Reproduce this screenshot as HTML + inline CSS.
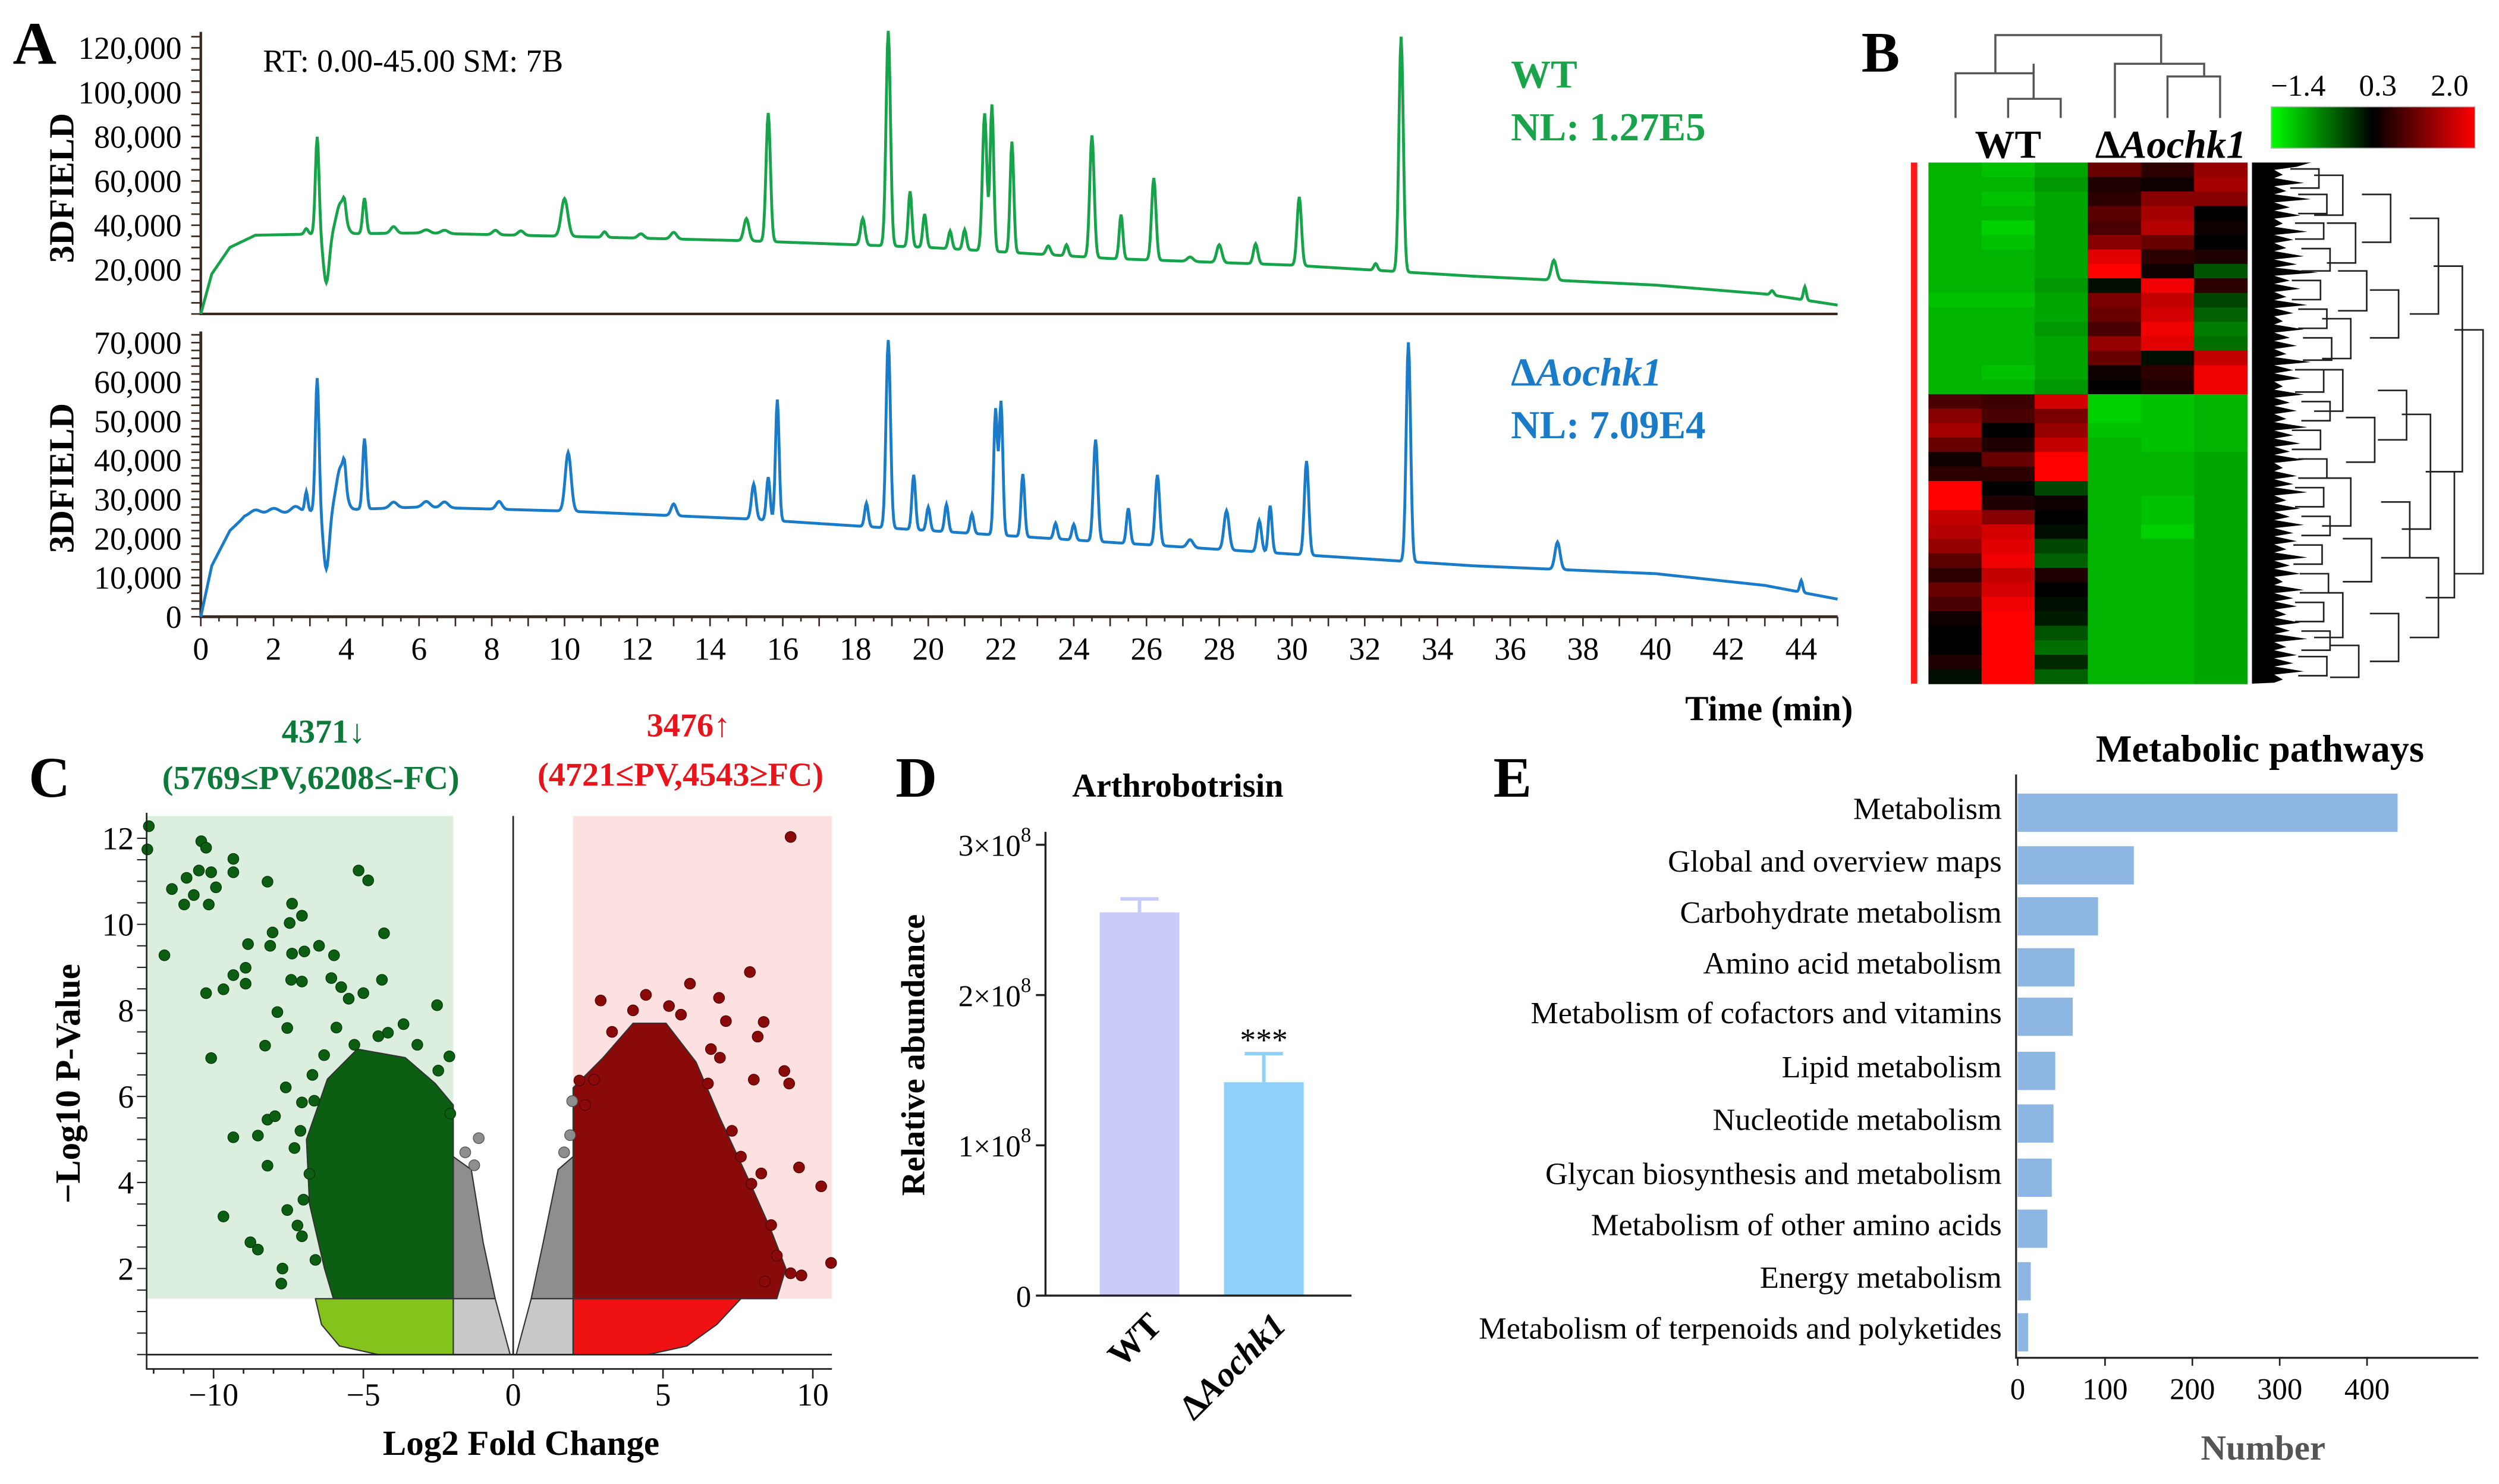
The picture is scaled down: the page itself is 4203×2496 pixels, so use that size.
<!DOCTYPE html>
<html><head><meta charset="utf-8"><style>
html,body{margin:0;padding:0;background:#fff;}
svg{display:block;font-family:"Liberation Serif",serif;}
</style></head><body>
<svg id="fig" width="4203" height="2496" viewBox="0 0 1568 931.2" preserveAspectRatio="none" xmlns="http://www.w3.org/2000/svg">
<rect x="0" y="0" width="1568" height="932" fill="#fff"/>
<text x="8" y="40" font-size="38" font-weight="bold">A</text>
<text x="1168" y="45" font-size="36" font-weight="bold">B</text>
<text x="18" y="500" font-size="36" font-weight="bold">C</text>
<text x="562" y="500" font-size="36" font-weight="bold">D</text>
<text x="937" y="500" font-size="36" font-weight="bold">E</text>

<g id="panelA">
<text x="165" y="45" font-size="20">RT: 0.00-45.00 SM: 7B</text>
<text x="948" y="55" font-size="25" font-weight="bold" fill="#1aa34a">WT</text>
<text x="948" y="88" font-size="25" font-weight="bold" fill="#1aa34a">NL: 1.27E5</text>
<text x="948" y="242" font-size="25" font-weight="bold" fill="#1a7cc9">Δ<tspan font-style="italic">Aochk1</tspan></text>
<text x="948" y="275" font-size="25" font-weight="bold" fill="#1a7cc9">NL: 7.09E4</text>
<text transform="translate(46,118) rotate(-90)" text-anchor="middle" font-size="22" font-weight="bold">3DFIELD</text>
<text transform="translate(46,300) rotate(-90)" text-anchor="middle" font-size="22" font-weight="bold">3DFIELD</text>
<text x="1110" y="452" text-anchor="middle" font-size="22" font-weight="bold">Time (min)</text>
</g>
<g id="panelB">
<text x="1260" y="99" text-anchor="middle" font-size="25" font-weight="bold">WT</text>
<text x="1362" y="99" text-anchor="middle" font-size="25" font-weight="bold">Δ<tspan font-style="italic">Aochk1</tspan></text>
<defs><linearGradient id="cb" x1="0" x2="1"><stop offset="0" stop-color="#00ff00"/><stop offset="0.5" stop-color="#000"/><stop offset="1" stop-color="#ff0000"/></linearGradient></defs>
<rect x="1425" y="67" width="128" height="26" fill="url(#cb)" stroke="#bbb" stroke-width="0.6"/>
<text x="1442" y="60" text-anchor="middle" font-size="19">−1.4</text>
<text x="1492" y="60" text-anchor="middle" font-size="19">0.3</text>
<text x="1537" y="60" text-anchor="middle" font-size="19">2.0</text>
<rect x="1199" y="102" width="4" height="327" fill="#ff1a1a"/>
<g id="hm"></g>
<g fill="none" stroke="#555" stroke-width="1.3">
<path d="M1227,74V46H1276V40 M1260,74V62H1293V74 M1276,62V46 M1252,46V22H1356V40 M1327,74V40H1383V48 M1360,74V48H1393V74"/>
</g>
<g id="rowdend" fill="none" stroke="#222" stroke-width="1"></g>
</g>
<g id="panelC">
<text x="203" y="466" text-anchor="middle" font-size="21" font-weight="bold" fill="#0d7a3a">4371↓</text>
<text x="195" y="495" text-anchor="middle" font-size="21" font-weight="bold" fill="#0d7a3a">(5769≤PV,6208≤-FC)</text>
<text x="432" y="462" text-anchor="middle" font-size="21" font-weight="bold" fill="#e8141c">3476↑</text>
<text x="427" y="493" text-anchor="middle" font-size="21" font-weight="bold" fill="#e8141c">(4721≤PV,4543≥FC)</text>
<text transform="translate(50,680) rotate(-90)" text-anchor="middle" font-size="22" font-weight="bold">−Log10 P-Value</text>
<text x="327" y="913" text-anchor="middle" font-size="22" font-weight="bold">Log2 Fold Change</text>
</g>
<g id="panelD">
<text x="739" y="500" text-anchor="middle" font-size="21" font-weight="bold">Arthrobotrisin</text>
<text transform="translate(580,662) rotate(-90)" text-anchor="middle" font-size="21" font-weight="bold">Relative abundance</text>
</g>
<g id="panelE">
<text x="1418" y="478" text-anchor="middle" font-size="24" font-weight="bold">Metabolic pathways</text>
<text x="1420" y="916" text-anchor="middle" font-size="22" font-weight="bold" fill="#555">Number</text>
</g>
</svg>
<script>
const NS="http://www.w3.org/2000/svg";
function mk(tag,attrs,parent){const e=document.createElementNS(NS,tag);for(const k in attrs)e.setAttribute(k,attrs[k]);(parent||document.getElementById('fig')).appendChild(e);return e;}

// ---------- Panel A data ----------
const chromTicksX=[0,2,4,6,8,10,12,14,16,18,20,22,24,26,28,30,32,34,36,38,40,42,44];
const topTicksY=[20000,40000,60000,80000,100000,120000];
const botTicksY=[0,10000,20000,30000,40000,50000,60000,70000];
const wtBaseline=[[0,0],[0.3,18000],[0.8,30000],[1.5,35500],[3,36000],[6,36500],[10,35000],[15,33000],[20,30000],[25,25000],[30,22000],[35,17000],[40,13000],[43,9000],[45,4000]];
const wtPeaks=[[2.9,2500,0.05],[3.2,44000,0.05],[3.45,-22000,0.08],[3.85,14000,0.12],[3.95,6000,0.04],[4.5,16000,0.05],[5.3,3000,0.08],[6.2,1500,0.1],[6.7,1500,0.1],[8.1,2000,0.08],[8.8,2000,0.08],[10,17000,0.09],[11.1,2500,0.06],[12.1,2000,0.08],[13,3000,0.08],[15,10000,0.07],[15.6,58000,0.06],[18.2,12000,0.06],[18.9,97000,0.06],[19.5,25000,0.05],[19.9,15000,0.05],[20.6,8000,0.05],[21.0,9000,0.05],[21.55,62000,0.06],[21.75,66000,0.05],[22.3,50000,0.05],[23.3,4000,0.06],[23.8,5000,0.05],[24.5,55000,0.06],[25.3,20000,0.05],[26.2,37000,0.06],[27.2,2000,0.08],[28,8000,0.07],[29,9000,0.06],[30.2,31000,0.06],[32.3,3000,0.05],[33.0,106000,0.06],[37.2,9000,0.07],[43.2,2000,0.05],[44.1,6000,0.04]];
const mutBaseline=[[0,0],[0.3,13000],[0.8,22000],[1.2,25500],[3,27000],[6,28000],[10,27000],[15,25000],[20,22000],[25,19000],[30,16000],[35,13000],[40,11000],[43,8000],[45,4500]];
const mutPeaks=[[1.5,1500,0.15],[2.0,1500,0.15],[2.6,1500,0.12],[2.9,5000,0.04],[3.2,34000,0.05],[3.45,-15000,0.08],[3.85,11000,0.12],[3.95,5000,0.04],[4.5,18000,0.05],[5.3,1500,0.1],[6.2,1500,0.1],[6.7,1500,0.1],[8.2,2000,0.08],[10.1,15000,0.08],[13,3000,0.07],[15.2,9000,0.06],[15.6,11000,0.05],[15.85,31000,0.05],[18.3,6000,0.05],[18.9,48000,0.06],[19.6,14000,0.05],[20.0,6000,0.05],[20.5,7000,0.05],[21.2,5000,0.05],[21.85,32000,0.05],[22.0,34000,0.05],[22.6,16000,0.05],[23.5,4000,0.05],[24.0,4000,0.05],[24.6,26000,0.06],[25.5,9000,0.05],[26.3,18000,0.06],[27.2,2000,0.08],[28.2,10000,0.07],[29.1,8000,0.06],[29.4,12000,0.05],[30.4,24000,0.06],[33.2,56000,0.06],[37.3,7000,0.07],[44,3000,0.04]];
const xA=t=>126+t*(1153-126)/45;
const yTop=v=>197-v*(197-30)/120000;
const yBot=v=>387-v*(387-215)/70000;
function interp(arr,t){for(let i=1;i<arr.length;i++){if(t<=arr[i][0]){const a=arr[i-1],b=arr[i];return a[1]+(b[1]-a[1])*(t-a[0])/(b[0]-a[0]);}}return arr[arr.length-1][1];}
function trace(base,peaks,ys){let d="";for(let t=0;t<=45.001;t+=0.025){let v=interp(base,t);for(const p of peaks)v+=p[1]*Math.exp(-((t-p[0])**2)/(2*p[2]*p[2]));d+=(d?"L":"M")+xA(t).toFixed(2)+","+ys(Math.max(0,v)).toFixed(2);}return d;}
const gA=document.getElementById('panelA');
let e;
e=mk('path',{d:`M126,20V197H1153`,fill:'none',stroke:'#3a2a22','stroke-width':1.6},gA);


e=mk('path',{d:`M126,208V387H1153`,fill:'none',stroke:'#3a2a22','stroke-width':1.8},gA);


for(let v=0;v<=125000;v+=5000){const y=yTop(v);if(y<20)continue;e=mk('line',{x1:120,x2:126,y1:y,y2:y,stroke:'#3a2a22','stroke-width':1},gA);}
for(let v=0;v<=72000;v+=2000){const y=yBot(v);if(y<208)continue;e=mk('line',{x1:120,x2:126,y1:y,y2:y,stroke:'#3a2a22','stroke-width':1},gA);}
for(const v of topTicksY){e=mk('text',{x:114,y:yTop(v)+7,'text-anchor':'end','font-size':20},gA);e.textContent=v.toLocaleString('en-US');}
for(const v of botTicksY){e=mk('text',{x:114,y:yBot(v)+7,'text-anchor':'end','font-size':20},gA);e.textContent=v.toLocaleString('en-US');}
for(let t=0;t<=45;t+=0.5){e=mk('line',{x1:xA(t),x2:xA(t),y1:387,y2:t%1===0?393:390,stroke:'#3a2a22','stroke-width':1},gA);}
for(const t of chromTicksX){e=mk('text',{x:xA(t),y:414,'text-anchor':'middle','font-size':20},gA);e.textContent=t;}
e=mk('path',{d:trace(wtBaseline,wtPeaks,yTop),fill:'none',stroke:'#17a34a','stroke-width':1.8},gA);


e=mk('path',{d:trace(mutBaseline,mutPeaks,yBot),fill:'none',stroke:'#1a7cc9','stroke-width':1.8},gA);



// ---------- Panel B heatmap ----------
const heatSamples=["WT1","WT2","WT3","M1","M2","M3"];
const heatValues=[
[-1.0,-1.1,-0.9,1.0,0.6,1.3],[-1.0,-1.0,-0.8,0.5,0.4,1.4],[-1.0,-1.1,-0.9,0.6,1.2,1.2],[-1.0,-1.0,-0.9,0.9,1.4,0.3],
[-1.0,-1.2,-0.9,0.8,1.5,0.4],[-1.0,-1.1,-0.9,1.2,1.0,0.3],[-1.0,-1.0,-0.9,1.8,0.6,0.5],[-1.0,-1.0,-0.9,2.0,0.4,-0.3],
[-1.0,-1.0,-0.8,0.2,1.9,0.6],[-1.1,-1.1,-0.9,1.1,1.6,-0.2],[-1.0,-1.0,-0.9,1.0,1.7,-0.4],[-1.0,-1.0,-0.8,0.8,1.9,-0.6],
[-1.0,-1.0,-0.9,1.3,1.8,-0.5],[-1.0,-1.0,-0.9,1.0,0.2,1.6],[-1.0,-1.1,-0.9,0.4,0.6,1.9],[-1.0,-1.0,-0.8,0.3,0.5,1.9],
[0.8,0.7,1.7,-1.2,-1.1,-1.0],[1.2,0.8,1.1,-1.2,-1.1,-1.0],[1.4,0.3,1.3,-1.1,-1.1,-1.0],[1.0,0.5,1.6,-1.0,-1.1,-1.0],
[0.4,1.0,2.0,-1.0,-1.0,-0.9],[0.6,0.6,2.0,-1.0,-1.0,-0.9],[2.0,0.3,-0.2,-1.0,-1.0,-0.9],[2.0,0.5,0.4,-1.0,-1.1,-0.9],
[1.6,1.2,0.3,-1.0,-1.1,-0.9],[1.5,1.7,0.2,-1.0,-1.2,-0.9],[1.3,1.8,-0.2,-1.0,-1.0,-0.9],[0.9,1.9,-0.4,-1.0,-1.0,-0.9],
[0.6,1.6,0.5,-1.0,-1.0,-0.9],[1.0,1.7,0.3,-1.0,-1.0,-0.9],[0.8,1.9,0.2,-1.0,-1.0,-0.9],[0.4,2.0,0.1,-1.0,-1.0,-0.9],
[0.3,2.0,-0.3,-1.0,-1.0,-0.9],[0.3,2.0,-0.5,-1.0,-1.0,-0.9],[0.5,2.0,0.0,-1.0,-1.0,-0.9],[0.2,2.0,-0.4,-1.0,-1.0,-0.9]];
function hcol(v){if(v<0.3){const t=(0.3-v)/1.7;return `rgb(0,${Math.round(Math.min(1,t)*235)},0)`;}const t=(v-0.3)/1.7;return `rgb(${Math.round(Math.min(1,t)*255)},0,0)`;}
const hm=document.getElementById('hm');
const hx0=1210,hx1=1410,hy0=102,hy1=429;
const cw=(hx1-hx0)/heatSamples.length,rh=(hy1-hy0)/heatValues.length;
heatValues.forEach((row,i)=>row.forEach((v,j)=>{const r=mk('rect',{x:hx0+j*cw,y:hy0+i*rh,width:cw+0.3,height:rh+0.3,fill:hcol(v)},hm);

}));
const rd=document.getElementById('rowdend');
let mass="M1413,102L1450,102";
const jag=[6,2,8,3,10,4,7,2,9,5,3,8,6,12,4,7,3,9,5,2,8,4,6,3,10,5,7,2,8,4,6,3,9,5,7,4,8,2,6,5,9,3,7,4,8,5,6,3,9,4,7,2,8,5,6,3,7,4,9,3,6,5,8,2];
jag.forEach((a,i)=>{const y=102+(i+0.5)*(327/jag.length);mass+=`L${1428+a*2.2},${y.toFixed(1)}L${1427},${(y+2).toFixed(1)}`;});
mass+="L1413,429Z";
e=mk('path',{d:mass,fill:'#000',stroke:'none'},rd);


const br=[[1455,106,118],[1460,122,134],[1458,140,150],[1462,156,170],[1456,176,188],[1460,194,206],[1463,212,226],[1458,232,246],[1462,252,264],[1456,270,282],[1460,288,300],[1458,306,318],[1462,324,336],[1457,342,354],[1461,360,372],[1458,378,390],[1462,396,408],[1460,412,424],
[1470,110,135],[1478,140,165],[1485,170,195],[1475,200,225],[1470,232,258],[1490,262,290],[1475,300,330],[1488,338,365],[1470,372,400],[1480,405,425],
[1500,122,152],[1505,182,212],[1510,245,276],[1512,315,350],[1505,385,415],[1530,137,197],[1525,260,332],[1530,350,400],[1545,167,296],[1540,296,375],[1558,207,360]];
let bd="";for(const b of br){bd+=`M${b[0]-18},${b[1]}H${b[0]}V${b[2]}H${b[0]-18}`;}
e=mk('path',{d:bd},rd);



// ---------- Panel C volcano ----------
const volcTicksX=[-10,-5,0,5,10];
const volcTicksY=[2,4,6,8,10,12];
const downDense=[[-2,1.3],[-6,1.3],[-6.3,2],[-6.8,3.5],[-6.9,5],[-6.2,6.4],[-5.2,7.1],[-3.6,6.9],[-2.6,6.3],[-2,5.8]];
const downInsig=[[-2,1.3],[-6.6,1.3],[-6.4,0.7],[-5.8,0.2],[-4.5,0],[-2,0]];
const grayLeft=[[-2,1.3],[-2,4.6],[-1.4,4.3],[-1,2.6],[-0.6,1.3]];
const grayRight=[[0.6,1.3],[1,2.6],[1.5,4.3],[2,4.6],[2,1.3]];
const lightLeft=[[-2,1.3],[-0.6,1.3],[-0.1,0],[-2,0]];
const lightRight=[[0.6,1.3],[2,1.3],[2,0],[0.1,0]];
const upDense=[[2,1.3],[8.8,1.3],[9.1,2],[8.6,2.9],[7.9,4],[6.9,5.5],[6.1,6.8],[5.1,7.7],[4,7.7],[3,6.9],[2,6.2]];
const upInsig=[[2,1.3],[7.6,1.3],[6.8,0.7],[5.8,0.2],[4.5,0],[2,0]];
const downPoints=[[-12.16,12.28],[-12.21,11.74],[-10.41,11.93],[-10.25,11.78],[-10.49,11.25],[-10.9,11.08],[-11.39,10.82],[-9.92,10.86],[-10.08,11.21],[-10.66,10.68],[-10.98,10.46],[-10.16,10.46],[-9.34,11.52],[-9.34,11.21],[-8.2,10.99],[-7.38,10.48],[-7.05,10.2],[-7.46,10.03],[-8.03,9.81],[-11.64,9.28],[-8.85,9.54],[-8.11,9.5],[-7.38,9.32],[-6.97,9.37],[-6.48,9.5],[-5.98,9.28],[-5.16,11.25],[-4.84,11.02],[-4.31,9.79],[-9.34,8.82],[-9.67,8.49],[-10.25,8.4],[-8.93,8.62],[-8.93,8.99],[-7.41,8.71],[-7.05,8.67],[-6.07,8.75],[-5.74,8.54],[-5.49,8.27],[-5.0,8.4],[-4.38,8.71],[-7.87,7.96],[-7.54,7.59],[-8.28,7.18],[-10.08,6.89],[-7.59,6.21],[-7.05,5.86],[-8.2,5.46],[-7.95,5.54],[-9.34,5.05],[-8.52,5.09],[-8.2,4.39],[-9.67,3.21],[-8.77,2.61],[-8.52,2.44],[-7.7,2.0],[-7.74,1.65],[-7.05,2.75],[-7.54,3.36],[-6.64,5.9],[-2.54,8.12],[-2.13,6.93],[-3.66,7.68],[-4.18,7.48],[-6.31,6.96],[-6.8,4.2],[-7.0,3.6],[-7.2,3.0],[-6.6,2.2],[-6.7,6.5],[-5.9,7.6],[-5.3,7.2],[-4.5,7.4],[-3.2,7.2],[-2.5,6.6],[-2.1,5.6],[-7.3,4.8],[-7.1,5.2]];
const upPoints=[[9.26,12.03],[7.9,8.89],[5.9,8.62],[4.43,8.36],[2.92,8.23],[6.87,8.29],[7.1,7.75],[8.36,7.73],[8.16,7.39],[9.05,6.59],[9.21,6.3],[8.03,6.39],[9.54,4.35],[10.28,3.91],[10.61,2.13],[9.26,1.89],[9.62,1.84],[2.21,6.37],[2.7,6.39],[8.61,3.01],[7.95,3.97],[8.28,4.21],[6.6,7.1],[3.3,7.5],[4.0,8.0],[5.2,8.1],[6.5,6.3],[7.3,5.2],[7.6,4.6],[8.8,2.3],[8.4,1.7],[2.4,5.8],[6.9,6.9],[5.6,7.9]];
const grayPoints=[[-1.15,5.03],[1.97,5.89],[1.9,5.1],[-1.3,4.4],[-1.6,4.7],[1.7,4.7]];
const xC=v=>322+v*18.8, yC=v=>850-v*27;
const gC=document.getElementById('panelC');
e=mk('rect',{x:92,y:512,width:xC(-2)-92,height:yC(1.3)-512,fill:'#dcefdf'},gC);


e=mk('rect',{x:xC(2),y:512,width:522-xC(2),height:yC(1.3)-512,fill:'#fde0e0'},gC);


function poly(arr,fill){return mk('polygon',{points:arr.map(q=>xC(q[0]).toFixed(1)+","+yC(q[1]).toFixed(1)).join(" "),fill:fill,stroke:'#333','stroke-width':0.8,'stroke-linejoin':'round'},gC);}
e=poly(grayLeft,'#8e8e8e');
e=poly(grayRight,'#8e8e8e');
e=poly(lightLeft,'#c8c8c8');
e=poly(lightRight,'#c8c8c8');
e=poly(downInsig,'#84c21c');
e=poly(upInsig,'#f01212');
e=poly(downDense,'#0b5e12');
e=poly(upDense,'#8a0a0a');
for(const p of downPoints){e=mk('circle',{cx:xC(p[0]),cy:yC(p[1]),r:3.4,fill:'#0b5e12',stroke:'#063a0a','stroke-width':0.5},gC);}
for(const p of upPoints){e=mk('circle',{cx:xC(p[0]),cy:yC(p[1]),r:3.4,fill:'#8a0a0a',stroke:'#500','stroke-width':0.5},gC);}
for(const p of grayPoints){e=mk('circle',{cx:xC(p[0]),cy:yC(p[1]),r:3.4,fill:'#8e8e8e',stroke:'#555','stroke-width':0.5},gC);}
e=mk('path',{d:`M92,${yC(0)}H522 M${xC(0)},512V${yC(0)} M92,510V859H522`,fill:'none',stroke:'#222','stroke-width':1},gC);


for(let v=-12;v<=10;v++){e=mk('line',{x1:xC(v),x2:xC(v),y1:859,y2:v%5===0?865:862,stroke:'#222','stroke-width':1},gC);}
for(let v=0;v<=12.4;v+=0.5){e=mk('line',{x1:86,x2:92,y1:yC(v),y2:yC(v),stroke:'#222','stroke-width':0.8},gC);}
for(const v of volcTicksX){e=mk('text',{x:xC(v),y:882,'text-anchor':'middle','font-size':20},gC);e.textContent=v<0?"−"+Math.abs(v):v;}
for(const v of volcTicksY){e=mk('text',{x:84,y:yC(v)+7,'text-anchor':'end','font-size':20},gC);e.textContent=v;}

// ---------- Panel D bars ----------
const barGroups=["WT","ΔAochk1"];
const barValues=[2.55,1.42];
const barErrors=[0.09,0.19];
const barTicks=[0,1,2,3];
const gD=document.getElementById('panelD');
const yD=v=>813-v*94.3;
const axD=656;
const barX=[690,768], barColors=['#c8cbf8','#8fd0f8'];
barValues.forEach((v,i)=>{
 e=mk('rect',{x:barX[i],y:yD(v),width:50,height:yD(0)-yD(v),fill:barColors[i]},gD);
 
 
 const ey=yD(v+barErrors[i]);
 e=mk('path',{d:`M${barX[i]+25},${yD(v)}V${ey}M${barX[i]+13},${ey}H${barX[i]+37}`,stroke:barColors[i],'stroke-width':2.2,fill:'none'},gD);
 
 
});
e=mk('text',{x:barX[1]+25,y:yD(barValues[1]+barErrors[1])-2,'text-anchor':'middle','font-size':20},gD);
e.textContent="***";


e=mk('path',{d:`M${axD},522V${yD(0)}H848`,fill:'none',stroke:'#222','stroke-width':1.3},gD);


for(const v of barTicks){
 e=mk('line',{x1:axD-6,x2:axD,y1:yD(v),y2:yD(v),stroke:'#222','stroke-width':1.3},gD);
 
 
 e=mk('text',{x:axD-9,y:yD(v)+7,'text-anchor':'end','font-size':19},gD);
 
 
 if(v===0){e.textContent="0";}else{e.textContent=v+"×10";const s=mk('tspan',{dy:-9,'font-size':13},e);s.textContent="8";}
}
e=mk('text',{transform:`translate(${barX[0]+40},833) rotate(-45)`,'text-anchor':'end','font-size':22,'font-weight':'bold'},gD);
e.textContent=barGroups[0];


e=mk('text',{transform:`translate(${barX[1]+40},833) rotate(-45)`,'text-anchor':'end','font-size':22,'font-weight':'bold'},gD);
e.innerHTML='Δ<tspan font-style="italic">Aochk1</tspan>';



// ---------- Panel E pathways ----------
const pathwayNames=["Metabolism","Global and overview maps","Carbohydrate metabolism","Amino acid metabolism","Metabolism of cofactors and vitamins","Lipid metabolism","Nucleotide metabolism","Glycan biosynthesis and metabolism","Metabolism of other amino acids","Energy metabolism","Metabolism of terpenoids and polyketides"];
const pathwayCounts=[435,133,92,65,63,43,41,39,34,15,12];
const pathwayTicks=[0,100,200,300,400];
const gE=document.getElementById('panelE');
const xE=v=>1266+v*0.548;
const rowY=[510,543,575,607,638,672,705,739,771,804,836];
pathwayCounts.forEach((v,i)=>{
 e=mk('rect',{x:xE(0),y:rowY[i]-12,width:xE(v)-xE(0),height:24,fill:'#8db6e2'},gE);
 
 
 e=mk('text',{x:1256,y:rowY[i]+4,'text-anchor':'end','font-size':19.5},gE);
 e.textContent=pathwayNames[i];
 
 
});
e=mk('path',{d:`M1265,486V852H1555`,fill:'none',stroke:'#222','stroke-width':1.2},gE);


for(const v of pathwayTicks){
 e=mk('line',{x1:xE(v),x2:xE(v),y1:852,y2:857,stroke:'#222','stroke-width':1},gE);
 
 
 e=mk('text',{x:xE(v),y:878,'text-anchor':'middle','font-size':19},gE);
 e.textContent=v;
 
 
}
</script>
</body></html>
